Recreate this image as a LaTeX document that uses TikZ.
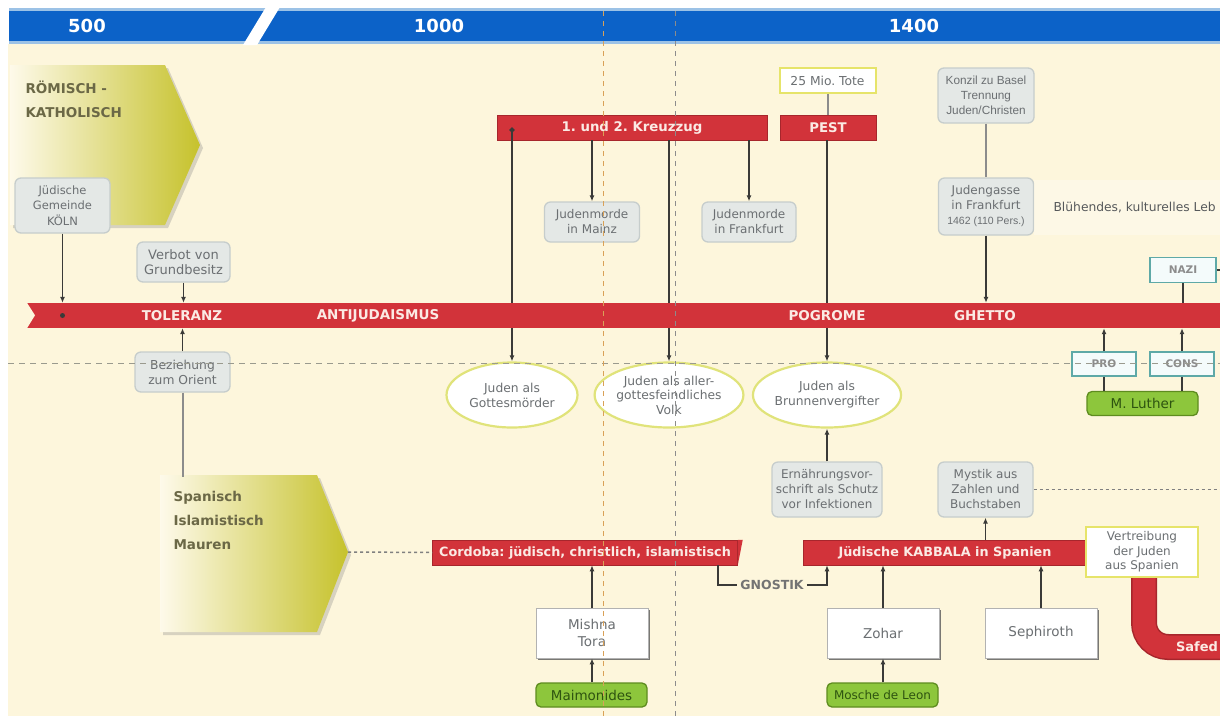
\documentclass[tikz,border=0pt]{standalone}
\usepackage{fontspec}
\setmainfont{DejaVu Sans}
\newfontfamily\narrowfont{Liberation Sans}
\usepackage{tikz}
\usetikzlibrary{arrows.meta,positioning,shadows,shapes.geometric}
\definecolor{barblue}{HTML}{0C62C8}
\definecolor{barblueedge}{HTML}{9CC2E6}
\definecolor{creambg}{HTML}{FDF6DC}
\definecolor{timered}{HTML}{D2333A}
\definecolor{timereddark}{HTML}{A7262C}
\definecolor{barwhite}{HTML}{FBEAE4}
\definecolor{boxfill}{HTML}{E4E8E6}
\definecolor{boxline}{HTML}{C6CDCC}
\definecolor{boxtext}{HTML}{6B6F72}
\definecolor{ovalline}{HTML}{E0E37A}
\definecolor{noteyellow}{HTML}{E6E46A}
\definecolor{leafgreen}{HTML}{8DC63C}
\definecolor{leafdark}{HTML}{5E8C1F}
\definecolor{leaftext}{HTML}{2E5410}
\definecolor{tealline}{HTML}{5EA9A7}
\definecolor{tealfill}{HTML}{F4FBFB}
\definecolor{olivetext}{HTML}{6B6846}
\definecolor{olivefill}{HTML}{C6C22C}
\definecolor{linegrey}{HTML}{3A3A38}
\definecolor{dashgrey}{HTML}{9A9A8E}
\definecolor{dashorange}{HTML}{D9A157}

\tikzset{
  infobox/.style={draw=boxline, fill=boxfill, rounded corners=6pt, line width=1.3pt, text=boxtext,
    align=center, inner sep=2pt, font=\fontsize{12}{15}\selectfont},
  redbar/.style={fill=timered, draw=timereddark, line width=0.5pt, text=barwhite, minimum height=25pt,
    inner sep=0pt, font=\bfseries\fontsize{12.8}{14}\selectfont},
  barlabel/.style={text=barwhite, inner sep=0pt, font=\bfseries\fontsize{13.5}{15}\selectfont},
  notebox/.style={draw=noteyellow, fill=white, line width=2pt, text=boxtext, align=center,
    inner sep=0pt, font=\fontsize{12.3}{14.5}\selectfont},
  oval/.style={ellipse, draw=ovalline, fill=white, line width=2.2pt, minimum width=131pt,
    minimum height=65pt, inner sep=0pt, text=boxtext, align=center, font=\fontsize{12.3}{15}\selectfont},
  person/.style={fill=leafgreen, draw=leafdark, rounded corners=5pt, line width=1.3pt, text=leaftext,
    minimum width=111pt, minimum height=24pt, inner sep=0pt, font=\fontsize{13.5}{15}\selectfont},
  scroll/.style={fill=white, draw=black!30, line width=0.8pt, minimum width=112pt, minimum height=50pt,
    inner sep=0pt, align=center, text=boxtext, font=\fontsize{13.5}{17}\selectfont,
    drop shadow={shadow xshift=1.5pt, shadow yshift=-2pt, fill=black!65, opacity=0.8}},
  tealbox/.style={draw=tealline, fill=tealfill, line width=1.5pt, text=black!45, minimum width=64pt,
    minimum height=24pt, inner sep=0pt, font=\bfseries\fontsize{10.5}{12}\selectfont},
  yearlabel/.style={text=white, font=\bfseries\fontsize{18}{20}\selectfont},
  sidetext/.style={text=olivetext, align=left, anchor=west, font=\bfseries\fontsize{13.5}{24}\selectfont},
  link/.style={draw=linegrey, line width=1.3pt},
  arrowlink/.style={link, -{Latex[length=6pt,width=5pt]}},
  softlink/.style={draw=black!45, line width=2pt},
  dotlink/.style={draw=black!50, line width=1.5pt, dash pattern=on 3pt off 3pt},
  guide/.style={line width=1pt, dash pattern=on 6pt off 5pt},
}

\begin{document}
\frenchspacing
\begin{tikzpicture}[x=1pt, y=-1pt]
    \useasboundingbox (0,0) rectangle (1220,716);
    \clip (0,0) rectangle (1220,716);
    \fill[white] (0,0) rectangle (1220,716);

    % Background
    \fill[creambg] (8,44) rectangle (1220,716);

    % === Time scale ===
    \fill[barblueedge] (9,8) rectangle (1220,44);
    \fill[barblue] (9,11) rectangle (1220,41);
    \fill[white] (243,45) -- (266,7) -- (280,7) -- (257,45) -- cycle;
    \node[yearlabel] (y500) at (87,26) {500};
    \node[yearlabel] (y1000) at (439,26) {1000};
    \node[yearlabel] (y1400) at (914,26) {1400};

    % === Left side: churches ===
    \shade[left color=white!40!creambg, right color=olivefill,
      drop shadow={shadow xshift=3pt, shadow yshift=-3pt, opacity=0.3}]
      (10,65) -- (165,65) -- (200,145) -- (165,225) -- (10,225) -- cycle;
    \node[sidetext] (roemisch) at (22,99.5) {RÖMISCH -\\KATHOLISCH};

    \shade[left color=white!40!creambg, right color=olivefill,
      drop shadow={shadow xshift=3pt, shadow yshift=-3pt, opacity=0.3}]
      (160,475) -- (317,475) -- (348,552) -- (317,632) -- (160,632) -- cycle;
    \coordinate (spanischtop) at (250,477);
    \coordinate (spanischtip) at (348,552);
    \node[sidetext] (spanisch) at (170,520.5) {Spanisch\\Islamistisch\\Mauren};

    % === Main time line ===
    \node[fill=timered, minimum width=1195pt, minimum height=25pt, inner sep=0pt, anchor=west] (mainbar) at (27,315.5) {};
    \fill[creambg] (mainbar.north west) -- ++(8,12.5) -- (mainbar.south west) -- cycle;
    \node[barlabel] (toleranz) at (182,316) {TOLERANZ};
    \node[barlabel] (antijud) at (378,316) {ANTIJUDAISMUS};
    \node[barlabel] (pogrome) at (827,316) {POGROME};
    \node[barlabel] (ghetto) at (985,316) {GHETTO};

    % Safed branch
    \coordinate (safedtop) at (1144,570);
    \coordinate (safedend) at (1260,647);
    \draw[timereddark, line width=26pt, rounded corners=24pt] (safedtop) |- (safedend);
    \draw[timered, line width=23pt, rounded corners=24pt] (safedtop) |- (safedend);
    \node[barlabel, font=\bfseries\fontsize{13}{15}\selectfont] (safed) at (1197,647) {Safed};

    % === Upper row ===
    \node[infobox, minimum width=95pt, minimum height=55pt, font=\fontsize{11.5}{15.5}\selectfont] (koeln) at (62.5,205.5) {Jüdische\\Gemeinde\\KÖLN};
    \node[infobox, minimum width=93pt, minimum height=40pt, font=\fontsize{13}{15}\selectfont] (verbot) at (183.5,262) {Verbot von\\Grundbesitz};
    \node[redbar, minimum width=270pt, font=\bfseries\fontsize{13.3}{15}\selectfont] (kreuzzug) at (632,127.5) {1. und 2. Kreuzzug};
    \node[infobox, minimum width=95pt, minimum height=40pt] (mainz) at (592,222) {Judenmorde\\in Mainz};
    \node[infobox, minimum width=94pt, minimum height=40pt] (frankfurt) at (749,222) {Judenmorde\\in Frankfurt};
    \node[notebox, minimum width=96pt, minimum height=25pt] (tote) at (827.5,80.5) {25 Mio. Tote};
    \node[redbar, minimum width=96pt, font=\bfseries\fontsize{13.3}{15}\selectfont] (pest) at (828,127.5) {PEST};
    \node[infobox, minimum width=96pt, minimum height=55pt, font=\narrowfont\fontsize{11.8}{15}\selectfont] (konzil) at (986,95.5) {Konzil zu Basel\\Trennung\\Juden/Christen};
    \node[infobox, minimum width=95pt, minimum height=57pt] (judengasse) at (986,206.5) {Judengasse\\in Frankfurt\\{\narrowfont\fontsize{10.5}{12}\selectfont 1462 (110 Pers.)}};
    \fill[white, opacity=0.3] (1034,180) rectangle (1220,235);
    \node[anchor=west, text=boxtext!80!black, font=\fontsize{12.3}{14}\selectfont] (bluehend) at (1050,208) {Blühendes, kulturelles Leb};
    \node[tealbox, minimum width=66pt, minimum height=25pt] (nazi) at (1183,270) {NAZI};
    \coordinate (naziout) at (1222,270);

    % === Below the time line ===
    \node[infobox, minimum width=95pt, minimum height=40pt, font=\fontsize{12.3}{15}\selectfont] (beziehung) at (182.5,372) {Beziehung\\zum Orient};
    \node[oval] (gott) at (512,395) {Juden als\\Gottesmörder};
    \node[oval, font=\fontsize{12.3}{14.5}\selectfont] (volk) at (669,395) {Juden als aller-\\gottesfeindliches\\Volk};
    \node[oval] (brunnen) at (827,395) {Juden als\\Brunnenvergifter};
    \node[tealbox] (pro) at (1104,364) {PRO};
    \node[tealbox] (cons) at (1182,364) {CONS};
    \node[person] (luther) at (1142.5,403.5) {M. Luther};

    % === Spain ===
    \node[infobox, minimum width=110pt, minimum height=55pt] (ernaehrung) at (827,489.5) {Ernährungsvor-\\schrift als Schutz\\vor Infektionen};
    \node[infobox, minimum width=95pt, minimum height=55pt] (mystik) at (985.5,489.5) {Mystik aus\\Zahlen und\\Buchstaben};
    \coordinate (mystikout) at (1222,489.5);
    \node[redbar, minimum width=305pt] (cordoba) at (585,552.5) {Cordoba: jüdisch, christlich, islamistisch};
    \fill[timered] (cordoba.north east) -- ++(5,0) -- (cordoba.south east) -- cycle;
    \node[redbar, minimum width=284pt] (kabbala) at (945,552.5) {Jüdische KABBALA in Spanien};
    \node[notebox, minimum width=112pt, minimum height=50pt, font=\fontsize{12}{14.5}\selectfont] (vertreibung) at (1142,552) {Vertreibung\\der Juden\\aus Spanien};
    \coordinate (gnostikin) at (718,565);
    \node[text=black!55, inner sep=3pt, font=\bfseries\fontsize{12.5}{14}\selectfont] (gnostik) at (772,585) {GNOSTIK};
    \node[scroll] (mishna) at (592,633) {Mishna\\Tora};
    \node[scroll] (zohar) at (883,633) {Zohar};
    \node[scroll] (sephiroth) at (1041,633) {Sephiroth};
    \node[person] (maimonides) at (591.5,695) {Maimonides};
    \node[person, font=\fontsize{12}{14}\selectfont] (mosche) at (882.5,695) {Mosche de Leon};

    % Connectors to the time line
    \draw[arrowlink] (koeln.south) -- (koeln |- mainbar.north);
    \fill[linegrey] (koeln |- mainbar.center) circle (2.5pt);
    \draw[arrowlink] (verbot.south) -- (verbot |- mainbar.north);
    \draw[arrowlink] (beziehung.north) -- (beziehung |- mainbar.south);
    \draw[softlink] (beziehung.south) -- (beziehung.south |- spanischtop);

    % Crusades
    \draw[link, {Circle[length=5pt]}-] (gott |- kreuzzug) -- (gott |- mainbar.north);
    \draw[arrowlink] (gott |- mainbar.south) -- (gott.north);
    \draw[link] (volk |- kreuzzug.south) -- (volk |- mainbar.north);
    \draw[arrowlink] (volk |- mainbar.south) -- (volk.north);
    \draw[arrowlink] (mainz |- kreuzzug.south) -- (mainz.north);
    \draw[arrowlink] (frankfurt |- kreuzzug.south) -- (frankfurt.north);

    % Plague
    \draw[softlink] (tote.south) -- (tote.south |- pest.north);
    \draw[link] (brunnen |- pest.south) -- (brunnen |- mainbar.north);
    \draw[arrowlink] (brunnen |- mainbar.south) -- (brunnen.north);
    \draw[arrowlink] (ernaehrung.north) -- (brunnen.south);

    % Ghetto
    \draw[softlink] (konzil.south) -- (judengasse.north);
    \draw[arrowlink] (judengasse.south) -- (judengasse |- mainbar.north);
    \draw[link] (nazi.south) -- (nazi |- mainbar.north);
    \draw[link] (nazi.east) -- (naziout);
    \draw[arrowlink] (pro.north) -- (pro |- mainbar.south);
    \draw[arrowlink] (cons.north) -- (cons |- mainbar.south);
    \draw[link] (pro |- luther.north) -- (pro.south);
    \draw[link] (cons |- luther.north) -- (cons.south);

    % Spain
    \draw[dotlink] (spanischtip) -- (cordoba.west);
    \draw[arrowlink] (mishna.north) -- (mishna |- cordoba.south);
    \draw[arrowlink] (mishna |- maimonides.north) -- (mishna.south);
    \draw[link] (gnostikin) |- (gnostik.west);
    \draw[arrowlink] (gnostik.east) -| (ernaehrung |- kabbala.south);
    \draw[arrowlink] (mystik |- kabbala.north) -- (mystik.south);
    \draw[dotlink] (mystik.east) -- (mystikout);
    \draw[arrowlink] (zohar.north) -- (zohar |- kabbala.south);
    \draw[arrowlink] (zohar |- mosche.north) -- (zohar.south);
    \draw[arrowlink] (sephiroth.north) -- (sephiroth |- kabbala.south);

    % Guide lines
    \draw[guide, dashgrey] (8,363) -- (1220,363);
    \draw[guide, dashorange, dash pattern=on 5pt off 5pt] (603,11) -- (603,716);
    \draw[guide, black!45, dash pattern=on 5pt off 5pt] (675,11) -- (675,716);
\end{tikzpicture}
\end{document}
